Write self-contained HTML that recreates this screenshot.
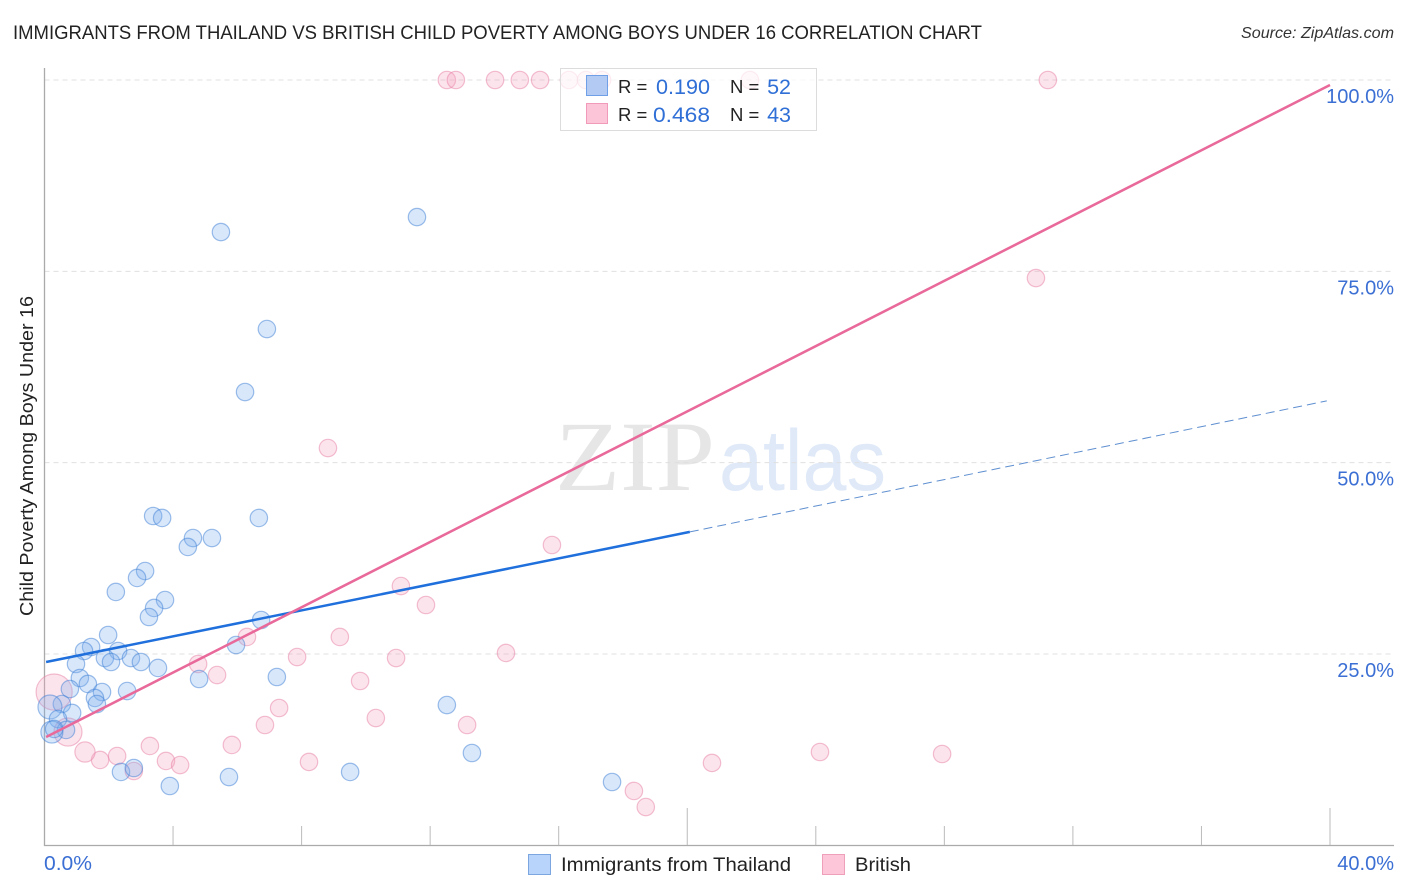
<!DOCTYPE html>
<html lang="en">
<head>
<meta charset="utf-8">
<title>Immigrants from Thailand vs British Child Poverty Correlation Chart</title>
<style>
html,body{margin:0;padding:0;background:#fff;}
svg{display:block;font-family:"Liberation Sans",sans-serif;}
</style>
</head>
<body>
<svg id="chart" xmlns="http://www.w3.org/2000/svg" width="1406" height="892" viewBox="0 0 1406 892">
  <rect x="0" y="0" width="1406" height="892" fill="#ffffff"/>
  <text x="13" y="39" font-size="19" fill="#222222" textLength="969" lengthAdjust="spacingAndGlyphs">IMMIGRANTS FROM THAILAND VS BRITISH CHILD POVERTY AMONG BOYS UNDER 16 CORRELATION CHART</text>
  <text x="1394" y="38" font-size="16" font-style="italic" fill="#333333" text-anchor="end" textLength="153" lengthAdjust="spacingAndGlyphs">Source: ZipAtlas.com</text>
  <text x="555" y="490" font-family="'Liberation Serif',serif" font-size="100" fill="#e6e6e6" textLength="160" lengthAdjust="spacingAndGlyphs">ZIP</text>
  <text x="719" y="490" font-size="86" fill="#dfe9f8" textLength="167" lengthAdjust="spacingAndGlyphs">atlas</text>
  <g id="grid"></g>
  <g id="axes"></g>
  <g id="points"></g>
  <g id="trends"></g>
  <text transform="translate(33,456) rotate(-90)" font-size="18" fill="#222222" text-anchor="middle" textLength="320" lengthAdjust="spacingAndGlyphs">Child Poverty Among Boys Under 16</text>

  <g>
    <rect x="560.5" y="68.5" width="256" height="62" fill="#ffffff" fill-opacity="0.72" stroke="#dcdcdc" stroke-width="1"/>
    <rect x="586.5" y="75.5" width="21" height="20" fill="#b3cbf3" stroke="#6f9fe6" stroke-width="1"/>
    <rect x="586.5" y="103.5" width="21" height="20" fill="#fcc5d8" stroke="#f29ab9" stroke-width="1"/>
    <text x="618" y="93" font-size="18.5" fill="#222222">R =</text>
    <text x="710" y="94" font-size="21.5" fill="#2f6fd6" text-anchor="end" textLength="54" lengthAdjust="spacingAndGlyphs">0.190</text>
    <text x="730" y="93" font-size="18.5" fill="#222222">N =</text>
    <text x="791" y="94" font-size="21.5" fill="#2f6fd6" text-anchor="end">52</text>
    <text x="618" y="121" font-size="18.5" fill="#222222">R =</text>
    <text x="710" y="122" font-size="21.5" fill="#2f6fd6" text-anchor="end" textLength="57" lengthAdjust="spacingAndGlyphs">0.468</text>
    <text x="730" y="121" font-size="18.5" fill="#222222">N =</text>
    <text x="791" y="122" font-size="21.5" fill="#2f6fd6" text-anchor="end">43</text>
  </g>

  <g>
    <rect x="528.5" y="854.5" width="22" height="20" fill="#b9d4fa" stroke="#7ba6e0" stroke-width="1"/>
    <text x="561" y="871" font-size="19.5" fill="#222222" textLength="230" lengthAdjust="spacingAndGlyphs">Immigrants from Thailand</text>
    <rect x="822.5" y="854.5" width="22" height="20" fill="#fdc6d9" stroke="#ee9fba" stroke-width="1"/>
    <text x="855" y="871" font-size="19.5" fill="#222222" textLength="56" lengthAdjust="spacingAndGlyphs">British</text>
  </g>
</svg>
<script>
var xTickValues = [0, 4, 8, 12, 16, 20, 24, 28, 32, 36, 40];
var xMajorTicks = [0, 20, 40];
var xEdgeLabels = ["0.0%", "40.0%"];
var yTickValues = [25, 50, 75, 100];
var yTickLabels = ["25.0%", "50.0%", "75.0%", "100.0%"];

var thailandX = [5.49,11.59,6.92,6.24,3.38,3.66,6.67,4.62,5.21,4.46,3.13,2.88,2.22,3.75,3.41,3.25,6.74,1.98,5.96,1.45,1.23,2.29,1.88,2.07,2.69,3.00,3.53,0.98,1.10,1.35,4.81,7.23,0.79,2.57,1.79,1.57,1.63,0.54,0.86,0.17,0.42,0.67,0.23,0.30,2.38,2.78,3.90,5.74,9.51,12.52,13.30,17.66];
var thailandY = [80.13,82.09,67.46,59.23,43.03,42.77,42.77,40.15,40.15,38.98,35.84,34.93,33.10,32.05,31.01,29.83,29.44,27.48,26.17,25.91,25.39,25.39,24.47,23.95,24.47,23.95,23.17,23.69,21.86,21.08,21.73,21.99,20.42,20.16,20.03,19.25,18.46,18.46,17.29,18.07,16.50,15.07,14.80,15.20,9.58,10.10,7.75,8.92,9.58,18.33,12.06,8.27];
var thailandWeight = [1,1,1,1,1,1,1,1,1,1,1,1,1,1,1,1,1,1,1,1,1,1,1,1,1,1,1,1,1,1,1,1,1,1,1,1,1,1,1,1.9,1,1,1.6,1,1,1,1,1,1,1,1,1];

var britishX = [12.52,12.80,14.02,14.79,15.42,16.32,16.85,17.35,21.95,31.22,30.85,8.82,15.79,11.09,11.87,6.30,9.19,7.86,14.36,10.94,4.78,5.37,9.82,7.30,10.31,6.86,13.15,5.83,3.28,24.13,27.93,2.26,1.73,1.26,3.78,4.22,2.78,8.23,20.77,18.34,18.71,0.30,0.73];
var britishY = [100,100,100,100,100,100,100,100,100,100,74.12,51.91,39.24,33.88,31.40,27.22,27.22,24.60,25.13,24.47,23.69,22.25,21.47,17.94,16.63,15.72,15.72,13.11,12.98,12.19,11.93,11.67,11.15,12.19,11.02,10.49,9.71,10.89,10.76,7.10,5.00,20.03,14.80];
var britishWeight = [1,1,1,1,1,1,1,1,1,1,1,1,1,1,1,1,1,1,1,1,1,1,1,1,1,1,1,1,1,1,1,1,1,1.35,1,1,1,1,1,1,1,4.3,2.6];

var thailandTrendX = [0.05, 20.08];
var thailandTrendY = [23.95, 40.95];
var thailandForecastX = [20.08, 39.9];
var thailandForecastY = [40.95, 58.07];
var britishTrendX = [0.05, 40];
var britishTrendY = [14.15, 99.35];

var NS = "http://www.w3.org/2000/svg";
function xScale(v) { return 44.5 + v * (1285.5 / 40); }
function yScale(v) { return 845.3 - v * (765.3 / 100); }
function rScale(w) { return 8.7 * Math.sqrt(w); }
function make(tag, attrs, parent) {
  var el = document.createElementNS(NS, tag);
  for (var k in attrs) { el.setAttribute(k, attrs[k]); }
  parent.appendChild(el);
  return el;
}
var gridG = document.getElementById("grid");
var axesG = document.getElementById("axes");
var pointsG = document.getElementById("points");
var trendsG = document.getElementById("trends");

yTickValues.forEach(function (v, i) {
  var g = make("line", {x1: 44.5, x2: 1394, y1: yScale(v), y2: yScale(v), stroke: "#e0e0e0", "stroke-width": 1, "stroke-dasharray": "5 4"}, gridG);
  
  
  var t = make("text", {x: 1394, y: yScale(v) + 23, "font-size": 20, fill: "#3b6fd4", "text-anchor": "end"}, axesG);
  t.textContent = yTickLabels[i];
  
  
});

var yAxis = make("line", {x1: 44.5, x2: 44.5, y1: 68, y2: 846, stroke: "#aaaaaa", "stroke-width": 1.3}, axesG);


var xAxis = make("line", {x1: 44, x2: 1394, y1: 845.5, y2: 845.5, stroke: "#aaaaaa", "stroke-width": 1.3}, axesG);



xTickValues.forEach(function (v) {
  var major = xMajorTicks.indexOf(v) >= 0;
  if (v === 0) { return; }
  var t = make("line", {x1: xScale(v), x2: xScale(v), y1: major ? 808 : 826, y2: 845, stroke: "#bbbbbb", "stroke-width": 1}, axesG);
  
  
});

var x0Label = make("text", {x: 44, y: 870, "font-size": 20, fill: "#3b6fd4", textLength: 48, lengthAdjust: "spacingAndGlyphs"}, axesG);
x0Label.textContent = xEdgeLabels[0];


var x1Label = make("text", {x: 1394, y: 870, "font-size": 20, fill: "#3b6fd4", "text-anchor": "end"}, axesG);
x1Label.textContent = xEdgeLabels[1];



britishX.forEach(function (v, i) {
  var c = make("circle", {cx: xScale(v), cy: yScale(britishY[i]), r: rScale(britishWeight[i]), fill: "#f6a5c0", "fill-opacity": 0.3, stroke: "#e87fa5", "stroke-opacity": 0.5, "stroke-width": 1.2}, pointsG);
  
  
});
thailandX.forEach(function (v, i) {
  var c = make("circle", {cx: xScale(v), cy: yScale(thailandY[i]), r: rScale(thailandWeight[i]), fill: "#7fb0ee", "fill-opacity": 0.3, stroke: "#3d7fd6", "stroke-opacity": 0.5, "stroke-width": 1.2}, pointsG);
  
  
});

var lineBlue = make("line", {x1: xScale(thailandTrendX[0]), y1: yScale(thailandTrendY[0]), x2: xScale(thailandTrendX[1]), y2: yScale(thailandTrendY[1]), stroke: "#1f6fdc", "stroke-width": 2.5}, trendsG);


var lineForecast = make("line", {x1: xScale(thailandForecastX[0]), y1: yScale(thailandForecastY[0]), x2: xScale(thailandForecastX[1]), y2: yScale(thailandForecastY[1]), stroke: "#5f8fd0", "stroke-width": 1, "stroke-dasharray": "9 5"}, trendsG);


var linePink = make("line", {x1: xScale(britishTrendX[0]), y1: yScale(britishTrendY[0]), x2: xScale(britishTrendX[1]), y2: yScale(britishTrendY[1]), stroke: "#e8699a", "stroke-width": 2.5}, trendsG);


</script>
</body>
</html>
